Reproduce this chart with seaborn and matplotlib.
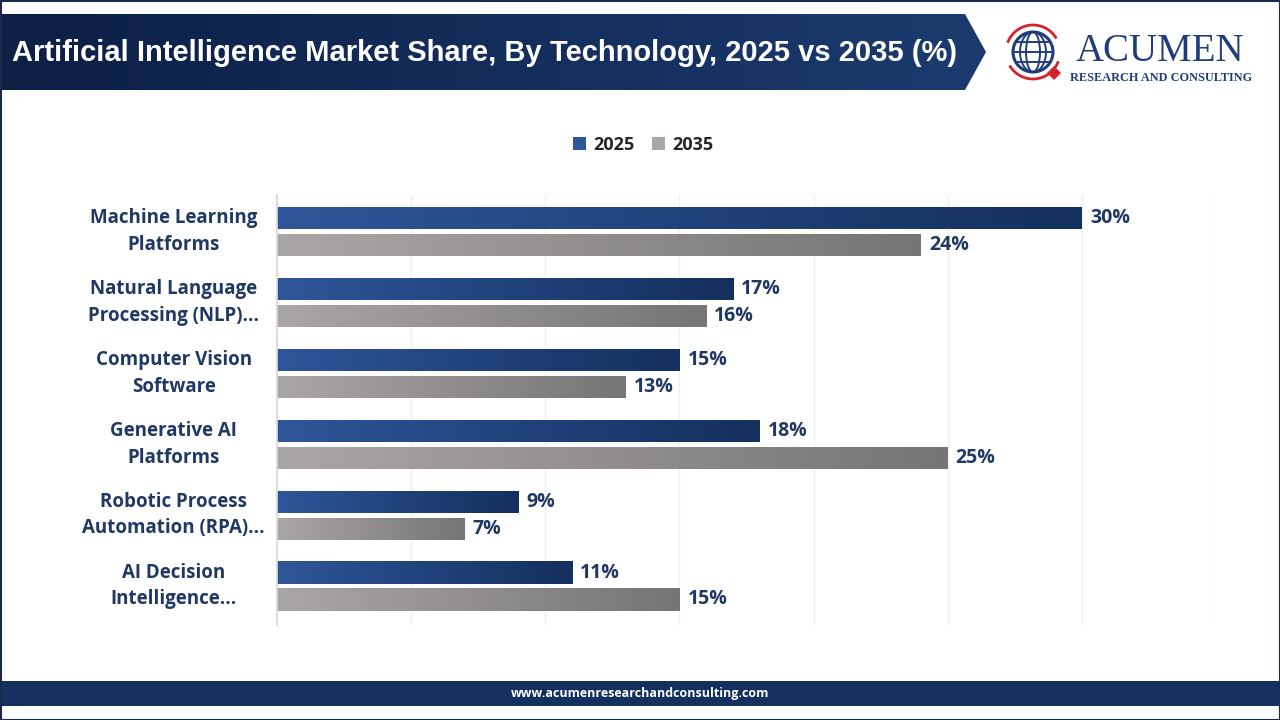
import numpy as np
import pandas as pd
import matplotlib
matplotlib.use("Agg")
import matplotlib.pyplot as plt
import seaborn as sns
from matplotlib.patches import Polygon, Rectangle, Circle, Ellipse, Arc, Patch
from matplotlib.colors import LinearSegmentedColormap
import matplotlib.transforms as mtransforms

# data
categories = ["Machine Learning\nPlatforms", "Natural Language\nProcessing (NLP)...",
              "Computer Vision\nSoftware", "Generative AI\nPlatforms",
              "Robotic Process\nAutomation (RPA)...", "AI Decision\nIntelligence..."]
share_2025 = [30, 17, 15, 18, 9, 11]
share_2035 = [24, 16, 13, 25, 7, 15]
years = ["2025", "2035"]

df = pd.DataFrame({
    "Technology": categories * 2,
    "Share": share_2025 + share_2035,
    "Year": [years[0]] * len(categories) + [years[1]] * len(categories),
})

NAVY = "#1f3864"
grad = {
    "2025": ("#2f5699", "#13305e"),
    "2035": ("#aba7a6", "#767474"),
}

sns.set_theme(style="white")
plt.rcParams["font.family"] = ["Open Sans", "DejaVu Sans"]

fig = plt.figure(figsize=(12.8, 7.2), dpi=100)

# decoration layer in pixel coords
bg = fig.add_axes([0, 0, 1, 1])
bg.set_xlim(0, 1280)
bg.set_ylim(720, 0)
bg.axis("off")

# title banner with gradient
banner = Polygon([(0, 14), (965, 14), (986, 52), (965, 90), (0, 90)], closed=True,
                 facecolor="none", edgecolor="none")
bg.add_patch(banner)
bcmap = LinearSegmentedColormap.from_list("b", ["#0c1f45", "#1b3b6f"])
im = bg.imshow(np.linspace(0, 1, 256).reshape(1, -1), cmap=bcmap, aspect="auto",
               extent=(0, 986, 90, 14), zorder=1)
im.set_clip_path(banner)
bg.text(12, 53, "Artificial Intelligence Market Share, By Technology, 2025 vs 2035 (%)",
        color="white", fontsize=21, fontweight="bold", va="center", ha="left",
        family=["Liberation Sans Narrow", "Liberation Sans", "DejaVu Sans"], zorder=3)

# logo
gx, gy = 1033, 52
bg.add_patch(Circle((gx, gy), 20, facecolor="white", edgecolor="#1f3d7a", lw=2.2, zorder=3))
for w in (26, 14):
    bg.add_patch(Ellipse((gx, gy), w, 40, facecolor="none", edgecolor="#1f3d7a", lw=1.4, zorder=3))
for dy in (-10, 0, 10):
    half = np.sqrt(20 ** 2 - dy ** 2)
    bg.plot([gx - half, gx + half], [gy + dy, gy + dy], color="#1f3d7a", lw=1.4, zorder=3)
bg.add_patch(Arc((gx, gy), 54, 54, theta1=200, theta2=330, color="#d4232a", lw=2, zorder=3))
bg.add_patch(Arc((gx, gy), 54, 54, theta1=20, theta2=150, color="#d4232a", lw=2, zorder=3))
bg.add_patch(Polygon([(1054, 66), (1061, 73), (1054, 80), (1047, 73)], closed=True,
                     facecolor="#d4232a", edgecolor="none", zorder=4))
serif = ["Liberation Serif", "DejaVu Serif"]
bg.text(1160, 61, "ACUMEN", color="#1f3d7a", fontsize=28, family=serif, ha="center",
        va="baseline", zorder=3)
bg.text(1161, 81, "RESEARCH AND CONSULTING", color="#1f3d7a", fontsize=8.8, family=serif,
        fontweight="bold", ha="center", va="baseline", zorder=3)

# footer band
bg.add_patch(Rectangle((0, 681), 1280, 25, facecolor="#13305e", edgecolor="none"))
bg.text(640, 693.5, "www.acumenresearchandconsulting.com", color="white", fontsize=9,
        fontweight="bold", ha="center", va="center")

# outer border
bg.add_patch(Rectangle((0.5, 0.5), 1279, 719, facecolor="none", edgecolor="#1a2a48", lw=1.5))

# chart
ax = fig.add_axes([277 / 1280, 1 - 625 / 720, (1216 - 277) / 1280, (625 - 195) / 720])
sns.barplot(data=df, y="Technology", x="Share", hue="Year", orient="h", ax=ax,
            width=0.76, gap=0.18, palette={"2025": "#2f5699", "2035": "#aba7a6"},
            legend=False)
ax.set_xticks(np.arange(0, 36, 5))
ax.xaxis.grid(True, color="#f0f0f0", lw=1)
ax.set_axisbelow(True)
ax.tick_params(left=False, bottom=False, labelbottom=False, labelleft=False)
ax.set_xlabel("")
ax.set_ylabel("")
for s in ("top", "right", "bottom"):
    ax.spines[s].set_visible(False)
ax.spines["left"].set_color("#d9d9d9")
ax.patch.set_alpha(0)

# gradient fill each bar
for yr, cont in zip(years, ax.containers):
    cmap = LinearSegmentedColormap.from_list(yr, list(grad[yr]))
    for bar in cont:
        x0, y0 = bar.get_x(), bar.get_y()
        w, h = bar.get_width(), bar.get_height()
        img = ax.imshow(np.linspace(0, 1, 256).reshape(1, -1), cmap=cmap, aspect="auto",
                        extent=(x0, x0 + w, y0 + h, y0), zorder=2)
        img.set_clip_path(bar)
        bar.set_facecolor("none")
        bar.set_edgecolor("none")
        ax.text(x0 + w + 0.3, y0 + h / 2, f"{w:g}%", va="center", ha="left",
                color=NAVY, fontsize=14, fontweight="bold", zorder=3)
ax.set_xlim(0, 35)
ax.set_ylim(5.55, -0.515)

# category labels centred left of the axis
trans = mtransforms.blended_transform_factory(ax.transAxes, ax.transData)
for i, c in enumerate(categories):
    ax.text(-0.110, i, c, transform=trans, ha="center", va="center", multialignment="center",
            color=NAVY, fontsize=13.5, fontweight="bold", linespacing=1.45)

# legend
handles = [Patch(facecolor=grad[y][0], edgecolor="none") for y in years]
fig.legend(handles, years, loc="center", bbox_to_anchor=(643 / 1280, 1 - 145 / 720),
           ncol=2, frameon=False, handlelength=0.7, handleheight=0.7, handletextpad=0.4,
           columnspacing=1.0, prop={"weight": "bold", "size": 13})

fig.savefig("out.png", dpi=100)
